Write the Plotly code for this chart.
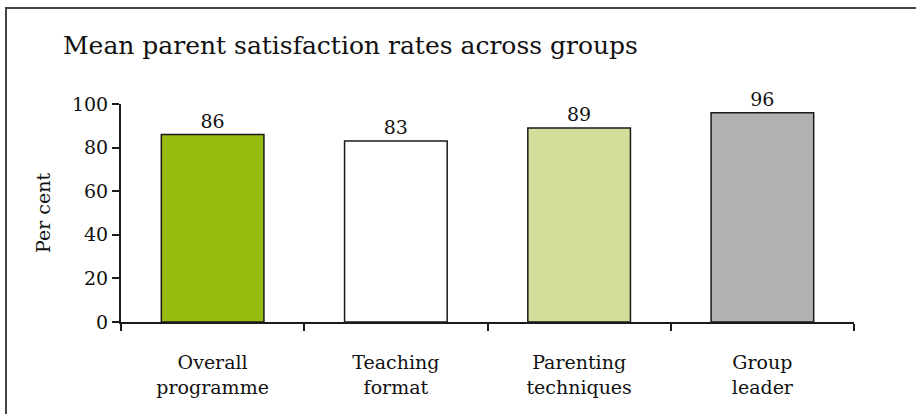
import plotly.graph_objects as go

categories = ["Overall<br>programme", "Teaching<br>format", "Parenting<br>techniques", "Group<br>leader"]
values = [86, 83, 89, 96]
bar_colors = ["#98BC0F", "#FFFFFF", "#D1DF9B", "#B1B1B3"]
y_ticks = [0, 20, 40, 60, 80, 100]

FONT = "DejaVu Serif, Liberation Serif, serif"
FS = 19

fig = go.Figure()
fig.add_trace(go.Bar(
    x=categories, y=values,
    marker=dict(color=bar_colors, line=dict(color="#1a1a1a", width=1.5)),
    width=0.56,
    text=[str(v) for v in values], textposition="outside",
    textfont=dict(family=FONT, size=FS, color="#111"),
    cliponaxis=False,
))

W, H = 916, 414
L, R, T, B = 121, 62, 104, 92
pw, ph = W - L - R, H - T - B

def px_x(x):
    return (x - L) / pw

def px_y(y):
    return (H - B - y) / ph

fig.add_shape(type="rect", xref="paper", yref="paper",
              x0=px_x(6), x1=px_x(1000), y0=px_y(480), y1=px_y(8),
              line=dict(color="#444", width=2), fillcolor="rgba(0,0,0,0)", layer="below")

fig.add_annotation(text="Mean parent satisfaction rates across groups",
                   xref="paper", yref="paper", x=px_x(61), y=px_y(62),
                   xanchor="left", yanchor="bottom", showarrow=False,
                   font=dict(family=FONT, size=25, color="#111"))

fig.update_layout(
    width=W, height=H,
    margin=dict(l=L, r=R, t=T, b=B, autoexpand=False),
    paper_bgcolor="white", plot_bgcolor="white",
    showlegend=False, bargap=0.44,
    font=dict(family=FONT, size=FS, color="#111"),
)
fig.update_xaxes(showline=True, linecolor="#1a1a1a", linewidth=2,
                 ticks="outside", tickson="boundaries", ticklen=7, tickwidth=2, tickcolor="#1a1a1a",
                 ticklabelstandoff=22,
                 tickfont=dict(family=FONT, size=FS, color="#111"), showgrid=False)
fig.update_yaxes(range=[0, 100], tickvals=y_ticks, showline=True, linecolor="#1a1a1a", linewidth=2,
                 ticks="outside", ticklen=7, tickwidth=2, tickcolor="#1a1a1a",
                 tickfont=dict(family=FONT, size=FS, color="#111"), showgrid=False, zeroline=False,
                 title=dict(text="Per cent", font=dict(family=FONT, size=FS, color="#111"), standoff=16))

fig.write_html("out.html", config={"displayModeBar": False},
               post_script="document.body.style.margin='0';")
